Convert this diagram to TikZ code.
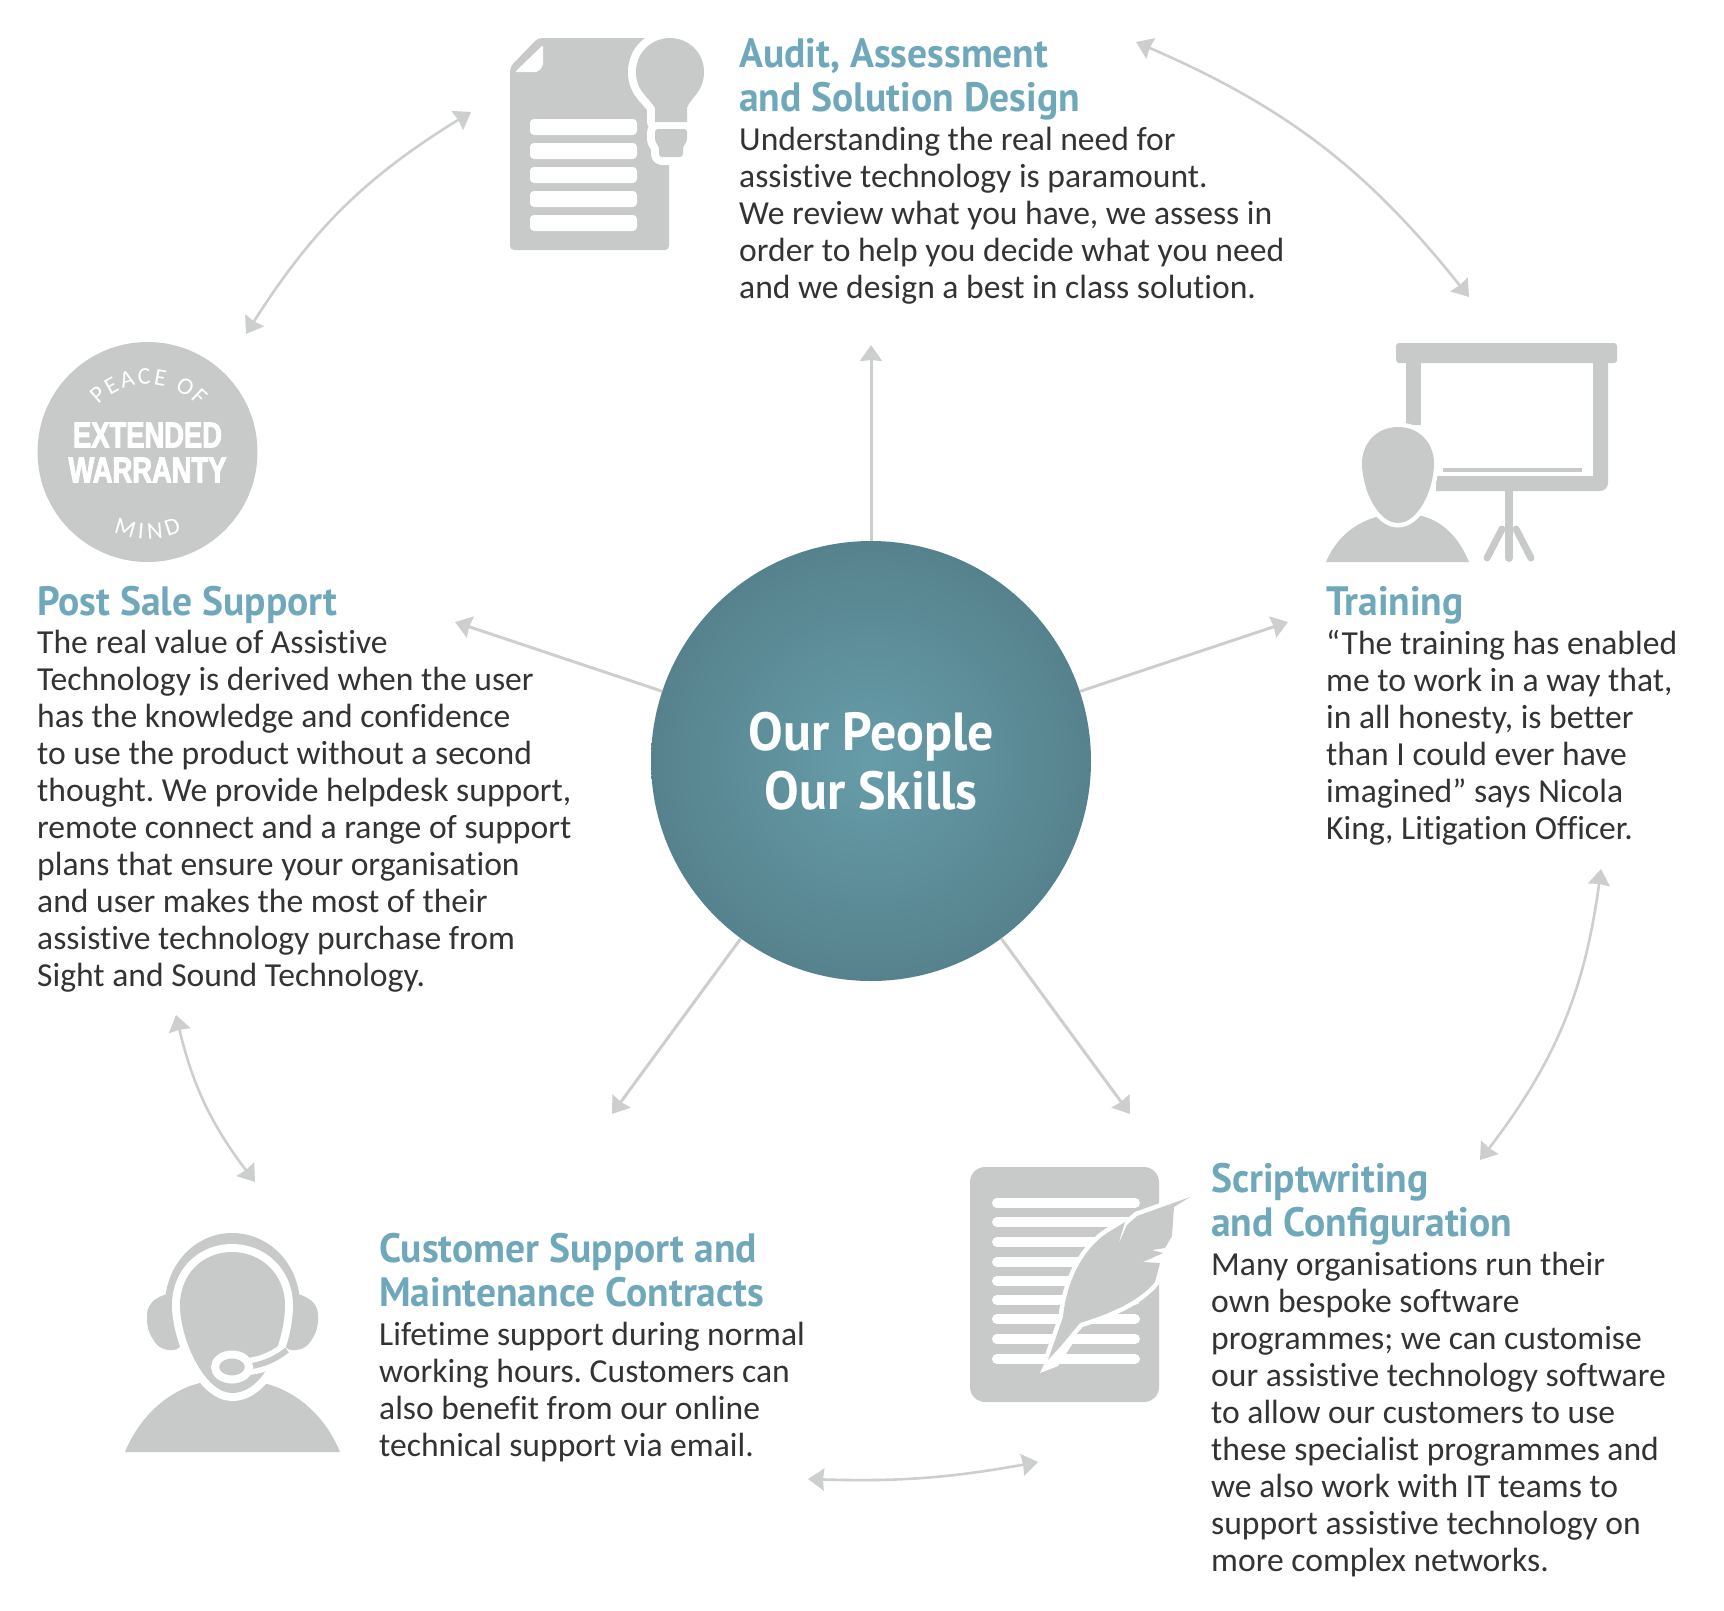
\documentclass[tikz,border=0pt]{standalone}
\usepackage{fontspec}
\setmainfont[Ligatures=NoCommon]{Carlito}
\newfontfamily\headfont[FakeStretch=0.965]{PT Sans}
\newfontfamily\stampfont[FakeStretch=0.76, FakeBold=2.5]{Liberation Sans}
\usetikzlibrary{arrows.meta, positioning, decorations.text, shapes.geometric}
\definecolor{iconGrey}{HTML}{C8CACA}
\definecolor{flowGrey}{HTML}{CDCFCF}
\definecolor{headTeal}{HTML}{6FA8BA}
\definecolor{bodyInk}{HTML}{333333}
\definecolor{hubIn}{HTML}{669DA9}
\definecolor{hubOut}{HTML}{56828D}
\tikzset{
    >={Stealth[length=16pt, width=22pt, inset=1pt]},
    % Connectors
    flow/.style={->, line width=3pt, flowGrey},
    swing/.style={<->, line width=2.6pt, flowGrey},
    % Text
    head/.style={inner sep=0pt, anchor=north west, align=left, text=headTeal,
                 font=\headfont\bfseries\fontsize{41}{44.5}\selectfont,
                 execute at end node=\rule[-11pt]{0pt}{11pt}},
    body/.style={inner sep=0pt, align=left, text=bodyInk,
                 font=\frenchspacing\fontsize{33.6}{37}\selectfont},
    % Icons
    icon/.style={fill=iconGrey},
    halo/.style={preaction={draw=white, line width=#1, line join=round}, fill=iconGrey},
    halo/.default=9pt,
    gap/.style={fill=white, rounded corners=4pt},
    stamp/.style={inner sep=0pt, text=white, font=\stampfont\bfseries\fontsize{36}{36}\selectfont}
}
\begin{document}
\begin{tikzpicture}[x=1pt, y=-1pt]
\useasboundingbox (0,0) rectangle (1724,1610);

% Hub
\node[circle, minimum size=440pt, inner sep=0pt, shade, inner color=hubIn, outer color=hubOut,
      text=white, align=center, font=\headfont\bfseries\fontsize{53.7}{59}\selectfont] (hub) at (871,761)
      {Our People\\Our Skills};

\coordinate (auditEnd) at (871,345);
\coordinate (trainEnd) at (1288,622);
\coordinate (postEnd) at (455,622);
\coordinate (custEnd) at (612,1114);
\coordinate (scriptEnd) at (1130,1114);
\draw[flow] (hub) -- (auditEnd);
\draw[flow] (hub) -- (trainEnd);
\draw[flow] (hub) -- (postEnd);
\draw[flow] (hub) -- (custEnd);
\draw[flow] (hub) -- (scriptEnd);

\coordinate (a1) at (471,112);
\coordinate (a2) at (246,334);
\coordinate (b1) at (1136,42);
\coordinate (b2) at (1469,297);
\coordinate (c1) at (1601,869);
\coordinate (c2) at (1480,1160);
\coordinate (d1) at (808,1479);
\coordinate (d2) at (1038,1462);
\coordinate (e1) at (176,1015);
\coordinate (e2) at (255,1182);
\draw[swing] (a1) to[bend right=13] (a2);
\draw[swing] (b1) to[bend left=14] (b2);
\draw[swing] (c1) to[bend left=15] (c2);
\draw[swing] (d1) to[bend right=6] (d2);
\draw[swing] (e1) to[bend right=12] (e2);

% Audit
\node[head] (auditHead) at (739,38) {Audit, Assessment\\and Solution Design};
\node[body, below right=3.5pt and 0pt of auditHead.south west] (auditBody)
    {Understanding the real need for\\assistive technology is paramount.\\We review what you have, we assess in\\order to help you decide what you need\\and we design a best in class solution.};

% Training
\node[head] (trainHead) at (1326,586) {Training};
\node[body, below right=3.5pt and 0pt of trainHead.south west] (trainBody)
    {“The training has enabled\\me to work in a way that,\\in all honesty, is better\\than I could ever have\\imagined” says Nicola\\King, Litigation Officer.};

% Post sale
\node[head] (postHead) at (37,586) {Post Sale Support};
\node[body, below right=3.5pt and 0pt of postHead.south west] (postBody)
    {The real value of Assistive\\Technology is derived when the user\\has the knowledge and confidence\\to use the product without a second\\thought. We provide helpdesk support,\\remote connect and a range of support\\plans that ensure your organisation\\and user makes the most of their\\assistive technology purchase from\\Sight and Sound Technology.};

% Scriptwriting
\node[head] (scriptHead) at (1211,1163) {Scriptwriting\\and Configuration};
\node[body, below right=3.5pt and 0pt of scriptHead.south west] (scriptBody)
    {Many organisations run their\\own bespoke software\\programmes; we can customise\\our assistive technology software\\to allow our customers to use\\these specialist programmes and\\we also work with IT teams to\\support assistive technology on\\more complex networks.};

% Customer support
\node[head] (custHead) at (379,1233) {Customer Support and\\Maintenance Contracts};
\node[body, below right=3.5pt and 0pt of custHead.south west] (custBody)
    {Lifetime support during normal\\working hours. Customers can\\also benefit from our online\\technical support via email.};

% Document and bulb
\fill[icon, rounded corners=4pt] (538,38) -- (669,38) -- (669,250) -- (510,250) -- (510,67) -- cycle;
\fill[white, rounded corners=2pt] (543,45) -- (515,72) -- (538,72) -- (543,66) -- cycle;
\foreach \y in {119,143,167,191,215}
    \fill[gap] (530,\y) rectangle (637,\y+16);
\path[halo=16pt] (655,122) -- (655,108) .. controls (650,98) and (636,92) .. (636,72)
    .. controls (636,52) and (652,38) .. (670,38) .. controls (688,38) and (704,52) .. (704,72)
    .. controls (704,92) and (690,98) .. (687,108) -- (687,122) -- cycle
    [rounded corners=3pt] (655,129) -- (687,129) -- (687,142) -- (683,146) -- (683,157) -- (659,157) -- (659,146) -- (655,142) -- cycle;

% Warranty badge
\node[circle, minimum size=220pt, inner sep=0pt, icon] (badge) at (147.5,452) {};
\node[stamp] (badgeTop) at (147.5,435) {EXTENDED};
\node[stamp] (badgeBottom) at (147.5,470) {WARRANTY};
\begin{scope}[shift={(147.5,452)}, y=1pt]
\path[decorate, decoration={text along path, text={|\color{white}\fontsize{24}{24}\selectfont|PEACE OF}, text align={fit to path}}]
    (136:68pt) arc[start angle=136, end angle=42, radius=68pt];
\path[decorate, decoration={text along path, text={|\color{white}\fontsize{24}{24}\selectfont|MIND}, text align={fit to path}}]
    (247:87pt) arc[start angle=247, end angle=293, radius=87pt];
\end{scope}

% Screen and presenter
\fill[icon, rounded corners=3pt] (1396,343) rectangle (1617,363);
\fill[icon] (1406,360) rectangle (1421,425);
\fill[icon] (1593,360) -- (1608,360) [rounded corners=8pt] -- (1608,491) [sharp corners] -- (1436,491) -- (1436,476) -- (1593,476) -- cycle;
\fill[icon] (1443,468) rectangle (1582,472);
\draw[iconGrey, line width=8pt, line cap=round] (1509,491) -- (1509,558);
\draw[iconGrey, line width=7pt, line cap=round] (1502,529) -- (1487,558);
\draw[iconGrey, line width=7pt, line cap=round] (1516,529) -- (1531,558);
\fill[icon] (1326,562) .. controls (1336,538) and (1355,522) .. (1380,516) -- (1422,516) .. controls (1445,522) and (1460,540) .. (1469,562) -- cycle;
\path[halo=9pt] (1398,427) .. controls (1420,427) and (1434,444) .. (1434,463)
    .. controls (1434,490) and (1418,523) .. (1398,523) .. controls (1378,523) and (1362,490) .. (1362,463)
    .. controls (1362,444) and (1376,427) .. (1398,427) -- cycle;

% Headset
\fill[icon] (125,1452) .. controls (140,1415) and (170,1390) .. (200,1383) -- (263,1383) .. controls (295,1390) and (325,1415) .. (340,1452) -- cycle;
\fill[icon, rounded corners=9pt] (165,1293) -- (147,1305) -- (147,1330) -- (160,1350) -- (182,1350) -- (182,1293) -- cycle;
\fill[icon, rounded corners=9pt] (300,1293) -- (318,1305) -- (318,1330) -- (305,1350) -- (283,1350) -- (283,1293) -- cycle;
\fill[icon] (165,1305) .. controls (165,1265) and (195,1233) .. (232,1233) .. controls (270,1233) and (300,1265) .. (300,1305) -- cycle;
\path[halo=16pt] (232,1252) .. controls (262,1252) and (285,1275) .. (285,1305) .. controls (285,1340) and (265,1393) .. (232,1393)
    .. controls (205,1393) and (180,1340) .. (180,1305) .. controls (180,1275) and (202,1252) .. (232,1252) -- cycle;
\draw[white, line width=17pt] (240,1367) .. controls (258,1367) and (275,1360) .. (287,1350);
\draw[iconGrey, line width=6pt] (240,1367) .. controls (258,1367) and (275,1360) .. (287,1350);
\node[ellipse, minimum width=34pt, minimum height=25pt, inner sep=0pt, draw=white, line width=8pt, icon] (mic) at (232,1367) {};

% Script and feather
\fill[icon, rounded corners=15pt] (970,1167) rectangle (1159,1402);
\foreach \y in {1203,1222,1242,1262,1281,1300,1319,1339,1359}
    \draw[white, line width=10pt, line cap=round] (997,\y) -- (1135,\y);
\fill[white] (1040,1373) -- (1058,1366) -- (1075,1340) -- (1062,1325) -- cycle;
\path[halo=9pt] (1190,1197) -- (1174,1207) -- (1172,1236) -- (1165,1248) -- (1152,1250) -- (1163,1253) -- (1143,1262) -- (1160,1263)
    -- (1155,1282) .. controls (1140,1300) and (1115,1312) .. (1080,1323) -- (1060,1347) -- (1048,1360)
    -- (1063,1317) .. controls (1065,1295) and (1075,1255) .. (1107,1233) -- (1125,1222) -- (1118,1245) -- (1127,1225)
    -- (1137,1216) -- cycle;
\end{tikzpicture}
\end{document}
